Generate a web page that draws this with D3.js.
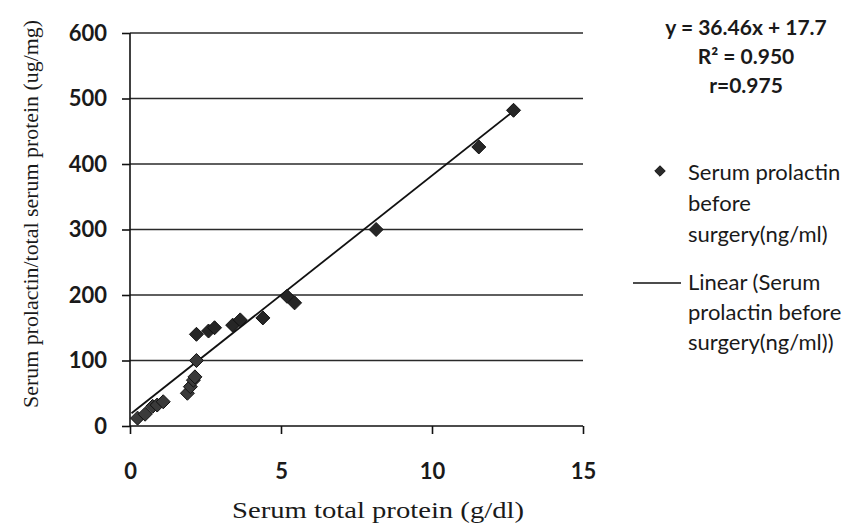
<!DOCTYPE html>
<html>
<head>
<meta charset="utf-8">
<script src="https://cdn.jsdelivr.net/npm/d3@7"></script>
<style>
  body { margin: 0; background: #fff; }
  svg { display: block; }
</style>
</head>
<body>
<div id="chart"></div>
<script>
// data
let proteinX = [0.25, 0.5, 0.75, 0.9, 1.1, 1.9, 2.0, 2.1, 2.15, 2.2, 2.2, 2.6, 2.8, 3.4, 3.65, 4.4, 5.2, 5.45, 8.15, 11.55, 12.7];
let ratioY   = [12, 18, 30, 32, 37, 50, 60, 70, 75, 100, 140, 145, 150, 154, 162, 165, 198, 188, 300, 426, 482];

let xTicks = [0, 5, 10, 15];
let yTicks = [0, 100, 200, 300, 400, 500, 600];

let slope = 36.46, intercept = 17.7;
let statLines = ['y = 36.46x + 17.7', 'R² = 0.950', 'r=0.975'];
let legendPoints = ['Serum prolactin', 'before', 'surgery(ng/ml)'];
let legendLine = ['Linear (Serum', 'prolactin before', 'surgery(ng/ml))'];

let width = 848, height = 529;
let margins = { top: 33, right: 265, bottom: 103, left: 130 };

let $svg = d3.select('#chart').append('svg')
  .attr('width', width)
  .attr('height', height);

let x = d3.scaleLinear().domain([0, 15]).range([margins.left, width - margins.right]);
let y = d3.scaleLinear().domain([0, 600]).range([height - margins.bottom, margins.top]);

let tickFont = 'Lato, "Open Sans", sans-serif';
let titleFont = '"Liberation Serif", "DejaVu Serif", serif';

// horizontal gridlines
$svg.append('g')
  .selectAll('line')
  .data(yTicks.filter(d => d > 0))
  .enter()
  .append('line')
  .attr('x1', x(0))
  .attr('x2', x(15))
  .attr('y1', d => y(d))
  .attr('y2', d => y(d))
  .style('stroke', '#2a2a2a')
  .style('stroke-width', 1.6);

// axes
let $xAxis = $svg.append('g')
  .attr('transform', `translate(0,${y(0)})`)
  .call(d3.axisBottom(x).tickValues(xTicks).tickSize(8).tickPadding(29).tickFormat(d3.format('d')));

let $yAxis = $svg.append('g')
  .attr('transform', `translate(${x(0)},0)`)
  .call(d3.axisLeft(y).tickValues(yTicks).tickSize(8).tickPadding(15).tickFormat(d3.format('d')));

[$xAxis, $yAxis].forEach($a => {
  $a.select('.domain').style('stroke', '#111').style('stroke-width', 1.6);
  $a.selectAll('.tick line').style('stroke', '#111').style('stroke-width', 1.6);
  $a.selectAll('.tick text')
    .style('font-family', tickFont)
    .style('font-weight', 'bold')
    .style('font-size', '22px')
    .style('fill', '#1a1a1a');
});
$xAxis.select('.domain').attr('d', `M${x(0)},0H${x(15)}`);
$yAxis.select('.domain').attr('d', `M0,${y(600)}V${y(0)}`);

// axis titles (x title sits a bit right of the plot centre)
$svg.append('text')
  .attr('x', 378)
  .attr('y', 518)
  .attr('text-anchor', 'middle')
  .attr('textLength', 292)
  .attr('lengthAdjust', 'spacingAndGlyphs')
  .style('font-family', titleFont)
  .style('font-size', '24px')
  .style('fill', '#1a1a1a')
  .text('Serum total protein (g/dl)');

$svg.append('text')
  .attr('transform', `translate(38,214) rotate(-90)`)
  .attr('text-anchor', 'middle')
  .attr('textLength', 388)
  .attr('lengthAdjust', 'spacingAndGlyphs')
  .style('font-family', titleFont)
  .style('font-size', '22px')
  .style('fill', '#1a1a1a')
  .text('Serum prolactin/total serum protein (ug/mg)');

// trend line
$svg.append('line')
  .attr('x1', x(0.05))
  .attr('y1', y(slope * 0.05 + intercept))
  .attr('x2', x(d3.max(proteinX)))
  .attr('y2', y(slope * d3.max(proteinX) + intercept))
  .style('stroke', '#111')
  .style('stroke-width', 1.8);

// points
let diamond = d3.symbol().type(d3.symbolDiamond2).size(125);

$svg.append('g')
  .selectAll('path')
  .data(proteinX.map((d, i) => [d, ratioY[i]]))
  .enter()
  .append('path')
  .attr('d', diamond)
  .attr('transform', d => `translate(${x(d[0])},${y(d[1])})`)
  .style('fill', d => d[1] < 120 ? '#3a3a3a' : '#262626')
  .style('stroke', '#111')
  .style('stroke-width', 1);

// stats text
$svg.append('g')
  .selectAll('text')
  .data(statLines)
  .enter()
  .append('text')
  .attr('x', 746)
  .attr('y', (d, i) => 35 + i * 29)
  .attr('text-anchor', 'middle')
  .style('font-family', tickFont)
  .style('font-weight', 'bold')
  .style('font-size', '21px')
  .style('fill', '#1a1a1a')
  .text(d => d);

// legend
let legendFont = 'Lato, "Open Sans", sans-serif';

$svg.append('path')
  .attr('d', d3.symbol().type(d3.symbolDiamond2).size(70))
  .attr('transform', 'translate(660,171)')
  .style('fill', '#2a2a2a')
  .style('stroke', '#111');

$svg.append('g')
  .selectAll('text')
  .data(legendPoints)
  .enter()
  .append('text')
  .attr('x', 688)
  .attr('y', (d, i) => 180 + i * 31)
  .style('font-family', legendFont)
  .style('font-size', '22px')
  .style('fill', '#1a1a1a')
  .text(d => d);

$svg.append('line')
  .attr('x1', 633)
  .attr('x2', 681)
  .attr('y1', 283)
  .attr('y2', 283)
  .style('stroke', '#111')
  .style('stroke-width', 1.6);

$svg.append('g')
  .selectAll('text')
  .data(legendLine)
  .enter()
  .append('text')
  .attr('x', 688)
  .attr('y', (d, i) => 290 + i * 30)
  .style('font-family', legendFont)
  .style('font-size', '22px')
  .style('fill', '#1a1a1a')
  .text(d => d);
</script>
</body>
</html>
